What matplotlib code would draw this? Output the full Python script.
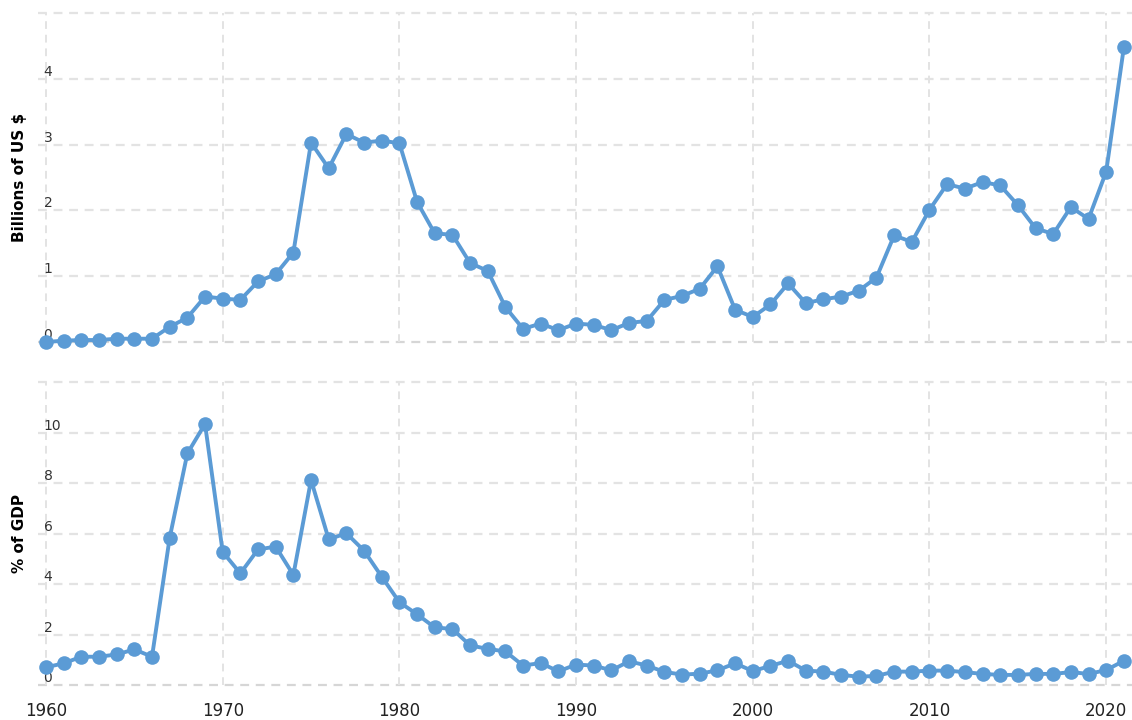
import matplotlib
matplotlib.use('Agg')
import matplotlib.pyplot as plt
from matplotlib.ticker import FixedLocator

# ── data ──────────────────────────────────────────────────────────────────────
YEARS = list(range(1960, 2022))

BILLIONS_USD = [
    0.00, 0.02, 0.03, 0.03, 0.05, 0.05, 0.05, 0.23, 0.37, 0.69,
    0.66, 0.64, 0.92, 1.03, 1.36, 3.03, 2.64, 3.16, 3.03, 3.06,
    3.02, 2.13, 1.65, 1.63, 1.20, 1.08, 0.53, 0.20, 0.28, 0.18,
    0.28, 0.26, 0.18, 0.29, 0.32, 0.64, 0.70, 0.81, 1.15, 0.49,
    0.38, 0.57, 0.89, 0.59, 0.65, 0.69, 0.78, 0.98, 1.62, 1.52,
    2.01, 2.40, 2.33, 2.43, 2.38, 2.08, 1.73, 1.64, 2.05, 1.87,
    2.59, 4.48,
]

PCT_GDP = [
    0.70, 0.86, 1.12, 1.12, 1.21, 1.41, 1.12, 5.83, 9.17, 10.34,
    5.27, 4.42, 5.37, 5.48, 4.36, 8.12, 5.77, 6.01, 5.32, 4.29,
    3.28, 2.80, 2.28, 2.22, 1.57, 1.43, 1.33, 0.77, 0.87, 0.54,
    0.81, 0.77, 0.58, 0.94, 0.77, 0.52, 0.41, 0.45, 0.58, 0.86,
    0.55, 0.76, 0.96, 0.57, 0.53, 0.40, 0.33, 0.36, 0.53, 0.53,
    0.57, 0.57, 0.51, 0.44, 0.40, 0.40, 0.44, 0.44, 0.51, 0.44,
    0.59, 0.96,
]

X_TICKS   = [1960, 1970, 1980, 1990, 2000, 2010, 2020]
TOP_TICKS = [0, 1, 2, 3, 4]
BOT_TICKS = [0, 2, 4, 6, 8, 10]

LINE_COLOR = '#5b9bd5'
GRID_COLOR = '#e3e3e3'


def style_axis(ax, ymax, yticks, ylabel):
    ax.set_xlim(1959.55, 2021.46)
    ax.set_ylim(0, ymax)
    for s in ax.spines.values():
        s.set_visible(False)

    # horizontal grid incl. the unlabelled top line
    for v in yticks + [ymax]:
        ax.axhline(v, color='#d6d6d6' if v == 0 else GRID_COLOR,
                   lw=1.6, ls=(0, (4, 3)), zorder=0, clip_on=False)
    for x in X_TICKS:
        ax.axvline(x, color=GRID_COLOR, lw=1.4, ls=(0, (4, 3)), zorder=0)

    ax.yaxis.set_major_locator(FixedLocator(yticks))
    ax.tick_params(axis='y', length=0, pad=-4, labelsize=10,
                   labelcolor='#333333')
    for lbl in ax.get_yticklabels():
        lbl.set_horizontalalignment('left')
        lbl.set_verticalalignment('bottom')

    ax.xaxis.set_major_locator(FixedLocator(X_TICKS))
    ax.set_ylabel(ylabel, fontsize=11, fontweight='bold', labelpad=0)
    ax.yaxis.set_label_coords(-0.0105, 0.5)


fig = plt.figure(figsize=(11.32, 7.2), dpi=100)
ax_top = fig.add_axes([0.0336, 0.525, 0.9664, 0.457])
ax_bot = fig.add_axes([0.0336, 0.0486, 0.9664, 0.4208])

style_axis(ax_top, 5, TOP_TICKS, 'Billions of US $')
style_axis(ax_bot, 12, BOT_TICKS, '% of GDP')

ax_top.tick_params(axis='x', length=0, labelbottom=False)
ax_bot.tick_params(axis='x', length=0, pad=12, labelsize=12,
                   labelcolor='#222222')

for ax, vals in [(ax_top, BILLIONS_USD), (ax_bot, PCT_GDP)]:
    ax.plot(YEARS, vals, '-', color=LINE_COLOR, lw=2.8, zorder=3,
            clip_on=False)
    ax.plot(YEARS, vals, 'o', color=LINE_COLOR, markersize=10.5,
            markeredgewidth=0, zorder=4, clip_on=False)

fig.savefig('out.png', dpi=100)
